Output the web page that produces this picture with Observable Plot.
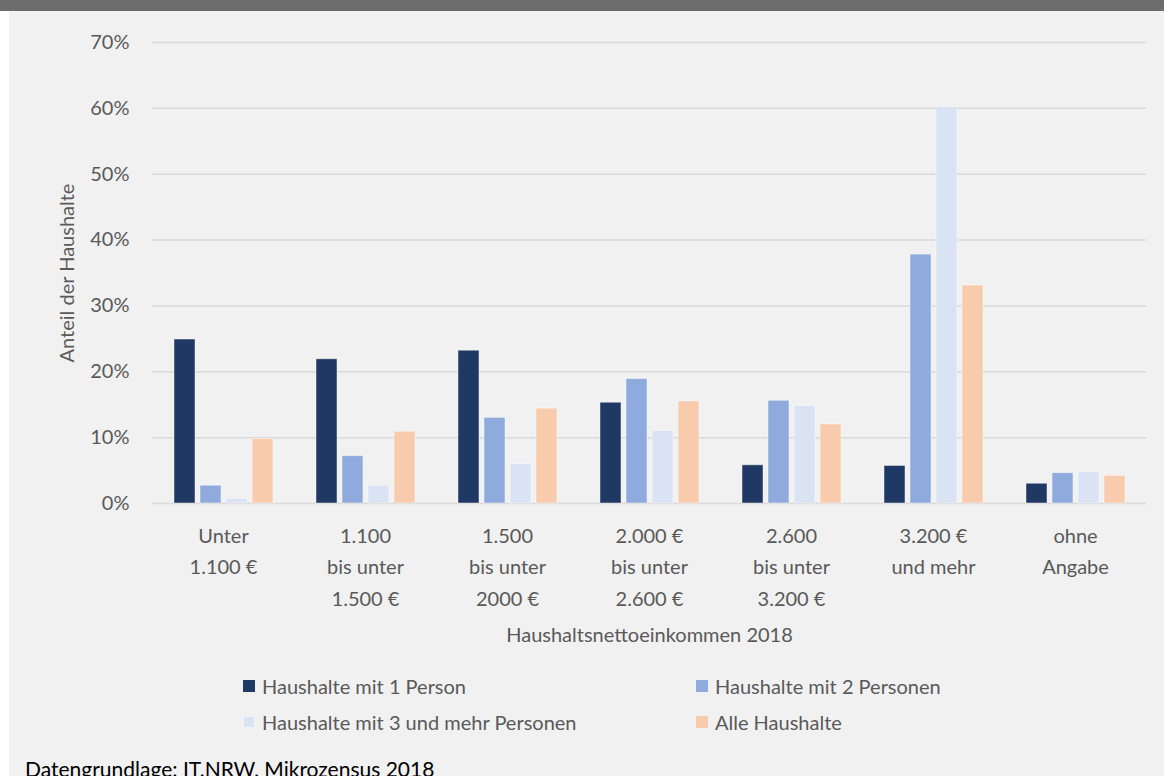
<!DOCTYPE html>
<html>
<head>
<meta charset="utf-8">
<script src="https://cdn.jsdelivr.net/npm/d3@7"></script>
<script src="https://cdn.jsdelivr.net/npm/@observablehq/plot@0.6"></script>
<style>
  html, body { margin: 0; padding: 0; background: #ffffff; }
  body { width: 1164px; height: 776px; overflow: hidden; font-family: Lato, "Open Sans", sans-serif; }
  #band { height: 11px; background: #6d6d6d; }
  #panel { position: relative; margin-left: 9px; width: 1155px; height: 765px; background: #f1f1f1; overflow: hidden; }
  #chart svg { display: block; }
  .legend-item { position: absolute; display: flex; align-items: center; font-size: 20px; color: #595959; line-height: 1; white-space: nowrap; }
  .legend-item .sw { width: 12px; height: 12px; margin-right: 7px; }
  #caption { position: absolute; left: 16px; top: 747px; font-size: 21px; line-height: 1; color: #000; white-space: nowrap; }
</style>
</head>
<body>
<div id="band"></div>
<div id="panel">
  <div id="chart"></div>
  <div id="legend"></div>
  <div id="caption">Datengrundlage: IT.NRW, Mikrozensus 2018</div>
</div>
<script>
// ---- data ----
const categories = [
  "Unter\n1.100 €",
  "1.100\nbis unter\n1.500 €",
  "1.500\nbis unter\n2000 €",
  "2.000 €\nbis unter\n2.600 €",
  "2.600\nbis unter\n3.200 €",
  "3.200 €\nund mehr",
  "ohne\nAngabe"
];
const seriesNames = [
  "Haushalte mit 1 Person",
  "Haushalte mit 2 Personen",
  "Haushalte mit 3 und mehr Personen",
  "Alle Haushalte"
];
const person1 = [24.9, 21.9, 23.2, 15.3, 5.8, 5.7, 3.0];
const person2 = [2.7, 7.2, 13.0, 18.9, 15.6, 37.8, 4.6];
const person3 = [0.7, 2.7, 6.0, 11.0, 14.8, 60.2, 4.8];
const allHH   = [9.8, 10.9, 14.4, 15.5, 12.0, 33.1, 4.2];
const yTicks = [0, 10, 20, 30, 40, 50, 60, 70];
const seriesColors = ["#203864", "#8faadc", "#dae3f3", "#f8cbad"];
const xTitle = "Haushaltsnettoeinkommen 2018";
const yTitle = "Anteil der Haushalte";

const valuesBySeries = [person1, person2, person3, allHH];
const rows = categories.flatMap((c, i) =>
  seriesNames.map((s, j) => ({cat: c, series: s, value: valuesBySeries[j][i]}))
);

const chart = Plot.plot({
  width: 1155,
  height: 640,
  marginLeft: 141,
  marginRight: 17,
  marginTop: 31,
  marginBottom: 148,
  style: {background: "transparent", fontFamily: "Lato, 'Open Sans', sans-serif", color: "#595959", overflow: "visible"},
  fx: {domain: categories, padding: 0},
  x: {domain: seriesNames, paddingInner: 0.2, paddingOuter: 0.807, axis: null},
  y: {domain: [0, 70]},
  color: {domain: seriesNames, range: seriesColors},
  marks: [
    Plot.gridY(yTicks, {stroke: "#d9d9d9", strokeOpacity: 1, strokeWidth: 1.5}),
    Plot.axisY(yTicks, {
      anchor: "left",
      tickSize: 0, tickPadding: 23, fontSize: 20,
      tickFormat: d => d + "%",
      label: yTitle, labelAnchor: "center", labelOffset: 93, labelArrow: "none"
    }),
    Plot.axisFx({
      anchor: "bottom",
      tickSize: 0, tickPadding: 17, fontSize: 20, lineHeight: 1.575,
      label: xTitle, labelAnchor: "center", labelOffset: 138, labelArrow: "none"
    }),
    Plot.barY(rows, {
      fx: "cat", x: "series", y: "value", fill: "series",
      stroke: "#ffffff", strokeOpacity: 0.45, strokeWidth: 1
    })
  ]
});
document.getElementById("chart").appendChild(chart);

// ---- legend (HTML below the chart) ----
const legendPos = [
  {left: 234, top: 674.5},
  {left: 687, top: 674.5},
  {left: 234, top: 711},
  {left: 687, top: 711}
];
const legend = document.getElementById("legend");
seriesNames.forEach((s, i) => {
  const item = document.createElement("div");
  item.className = "legend-item";
  item.style.left = legendPos[i].left + "px";
  item.style.top = (legendPos[i].top - 10) + "px";
  item.style.height = "20px";
  const sw = document.createElement("span");
  sw.className = "sw";
  sw.style.background = seriesColors[i];
  if (i === 2) sw.style.boxShadow = "inset 0 0 0 1px rgba(255,255,255,0.6)";
  const label = document.createElement("span");
  label.textContent = s;
  item.appendChild(sw);
  item.appendChild(label);
  legend.appendChild(item);
});
</script>
</body>
</html>
